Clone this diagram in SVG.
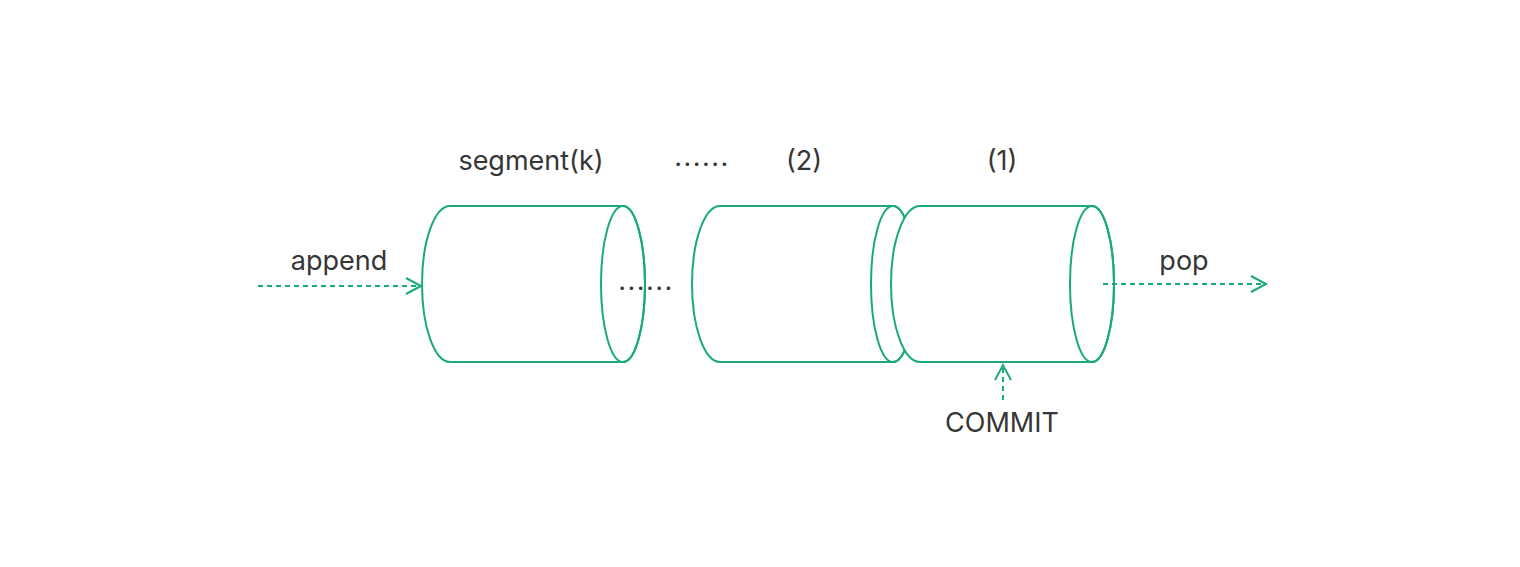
<svg xmlns="http://www.w3.org/2000/svg" width="1520" height="567" viewBox="0 0 1520 567">
  <style>
    .cyl { fill: #ffffff; stroke: #1aaa78; stroke-width: 2; stroke-linejoin: round; }
    .face { fill: none; stroke: #1aaa78; stroke-width: 2; }
    .lbl { font-family: Inter, "Liberation Sans", sans-serif; font-size: 27px; fill: #363636; text-anchor: middle; }
    .dots { font-family: Inter, "Liberation Sans", sans-serif; font-size: 27px; fill: #363636; text-anchor: middle; letter-spacing: 1.5px; }
    .conn { fill: none; stroke: #1aaa78; stroke-width: 2; stroke-dasharray: 5 4; }
  </style>
  <defs>
    <marker id="arr" markerUnits="userSpaceOnUse" markerWidth="20" markerHeight="22" refX="16" refY="9" orient="auto" viewBox="0 0 20 22">
      <path d="M1,1 L16,9 L1,17" fill="none" stroke="#1aaa78" stroke-width="2"/>
    </marker>
  </defs>
  <rect width="1520" height="567" fill="#ffffff"/>

  <g id="seg-k">
    <path class="cyl" d="M450,206 H623 A22,78 0 0 1 623,362 H450 A28,78 0 0 1 450,206 Z"/>
    <ellipse class="face" cx="623" cy="284" rx="22" ry="78"/>
  </g>
  <g id="seg-2">
    <path class="cyl" d="M720,206 H893 A22,78 0 0 1 893,362 H720 A28,78 0 0 1 720,206 Z"/>
    <ellipse class="face" cx="893" cy="284" rx="22" ry="78"/>
  </g>
  <g id="seg-1">
    <path class="cyl" d="M920,206 H1092 A22,78 0 0 1 1092,362 H920 A29,78 0 0 1 920,206 Z"/>
    <ellipse class="face" cx="1092" cy="284" rx="22" ry="78"/>
  </g>

  <g id="labels">
    <text class="lbl" x="531" y="170">segment(k)</text>
    <text class="dots" x="702" y="166">......</text>
    <text class="lbl" x="804" y="170">(2)</text>
    <text class="lbl" x="1002" y="170">(1)</text>
    <text class="dots" x="646" y="290">......</text>
    <text class="lbl" x="339" y="270">append</text>
    <text class="lbl" x="1184" y="270">pop</text>
    <text class="lbl" x="1002" y="432">COMMIT</text>
  </g>

  <g id="connectors">
    <line class="conn" x1="258" y1="286" x2="421" y2="286" marker-end="url(#arr)"/>
    <line class="conn" x1="1103" y1="284" x2="1266" y2="284" marker-end="url(#arr)"/>
    <line class="conn" x1="1003" y1="400" x2="1003" y2="365" marker-end="url(#arr)"/>
  </g>
</svg>
